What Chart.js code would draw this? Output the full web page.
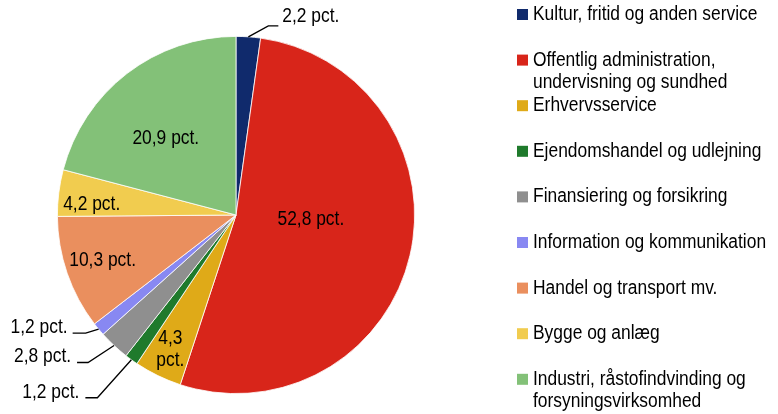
<!DOCTYPE html>
<html>
<head>
<meta charset="utf-8">
<script src="https://cdn.jsdelivr.net/npm/chart.js@4.4.1/dist/chart.umd.min.js"></script>
<style>
    html, body { margin: 0; padding: 0; background: #fff; }
    #wrap { width: 778px; height: 414px; position: relative; }
</style>
</head>
<body>
<div id="wrap"><canvas id="pieChart"></canvas></div>
<script>
// sectors, clockwise from 12 o'clock
const categories = [
    ["Kultur, fritid og anden service"],
    ["Offentlig administration,", "undervisning og sundhed"],
    ["Erhvervsservice"],
    ["Ejendomshandel og udlejning"],
    ["Finansiering og forsikring"],
    ["Information og kommunikation"],
    ["Handel og transport mv."],
    ["Bygge og anlæg"],
    ["Industri, råstofindvinding og", "forsyningsvirksomhed"],
];
const shares = [2.2, 52.8, 4.3, 1.2, 2.8, 1.2, 10.3, 4.2, 20.9];
const sliceColors = [
    "#102a6c", "#d8251a", "#dfaa18", "#1f7a2c", "#8f8f8f",
    "#8888f2", "#ea8f5e", "#f1cc4f", "#83c178",
];

// where each value label goes (inside: fraction of radius + angle tweak, outside: leader line)
const labelLayout = [
    { outside: true, elbow: [20, -11], tail: 10, text: [4, -9] },
    { frac: 0.42, turn: -9.3 },
    { frac: 0.84, turn: 0, wrap: true },
    { outside: true, elbow: [-34, 38], tail: -12, text: [-6, -5] },
    { outside: true, elbow: [-26, 17], tail: -11, text: [-6, -6] },
    { outside: true, elbow: [-13, 4], tail: -13, text: [-5, -6] },
    { frac: 0.79, turn: 0 },
    { frac: 0.81, turn: -3 },
    { frac: 0.58, turn: -5 },
];

const FONT = "20px 'Liberation Sans', Arial, sans-serif";
const SQUEEZE = 0.87;
let pieChart;

function drawText(ctx, str, x, y, align) {
    ctx.save();
    ctx.translate(x, y);
    ctx.scale(SQUEEZE, 1);
    ctx.textAlign = align;
    ctx.fillText(str, 0, 0);
    ctx.restore();
}

function pctText(v) {
    return v.toFixed(1).replace(".", ",") + " pct.";
}

const sliceLabels = {
    id: "sliceLabels",
    afterDatasetsDraw(chart) {
        const ctx = chart.ctx;
        const arcs = chart.getDatasetMeta(0).data;
        ctx.save();
        ctx.font = FONT;
        ctx.fillStyle = "#000";
        ctx.strokeStyle = "#000";
        ctx.lineWidth = 1.3;
        ctx.textBaseline = "middle";

        arcs.forEach(function (arc, i) {
            const lay = labelLayout[i];
            const mid = (arc.startAngle + arc.endAngle) / 2;
            const label = pctText(shares[i]);

            if (lay.outside) {
                const ax = arc.x + Math.cos(mid) * arc.outerRadius;
                const ay = arc.y + Math.sin(mid) * arc.outerRadius;
                const ex = ax + lay.elbow[0];
                const ey = ay + lay.elbow[1];
                const tx = ex + lay.tail;
                ctx.beginPath();
                ctx.moveTo(ax, ay);
                ctx.lineTo(ex, ey);
                ctx.lineTo(tx, ey);
                ctx.stroke();
                drawText(ctx, label, tx + lay.text[0], ey + lay.text[1], lay.tail > 0 ? "left" : "right");
            } else {
                const ang = mid + lay.turn * Math.PI / 180;
                const r = arc.outerRadius * lay.frac;
                const cx = arc.x + Math.cos(ang) * r;
                const cy = arc.y + Math.sin(ang) * r;
                if (lay.wrap) {
                    const parts = label.split(" ");
                    drawText(ctx, parts[0], cx, cy - 11, "center");
                    drawText(ctx, parts[1], cx, cy + 11, "center");
                } else {
                    drawText(ctx, label, cx, cy, "center");
                }
            }
        });
        ctx.restore();
    },
};

const sideLegend = {
    id: "sideLegend",
    afterDraw(chart) {
        const ctx = chart.ctx;
        ctx.save();
        ctx.font = FONT;
        ctx.fillStyle = "#000";
        ctx.textBaseline = "alphabetic";
        categories.forEach(function (lines, i) {
            const base = 20 + i * 45.6;
            ctx.fillStyle = sliceColors[i];
            ctx.fillRect(517, base - 11, 11, 11);
            ctx.fillStyle = "#000";
            lines.forEach(function (line, j) {
                drawText(ctx, line, 533, base + j * 22, "left");
            });
        });
        ctx.restore();
    },
};

function renderChart() {
    const ctx = document.getElementById("pieChart").getContext("2d");
    pieChart = new Chart(ctx, {
        type: "pie",
        data: {
            labels: categories.map(function (c) { return c.join(" "); }),
            datasets: [
                {
                    data: shares,
                    backgroundColor: sliceColors,
                    borderColor: "#ffffff",
                    borderWidth: 0.8,
                },
            ],
        },
        options: {
            responsive: true,
            maintainAspectRatio: false,
            animation: false,
            events: [],
            layout: {
                padding: { left: 57, top: 36, right: 363, bottom: 20 },
            },
            plugins: {
                legend: { display: false },
                tooltip: { enabled: false },
            },
        },
        plugins: [sliceLabels, sideLegend],
    });
}

renderChart();
</script>
</body>
</html>
